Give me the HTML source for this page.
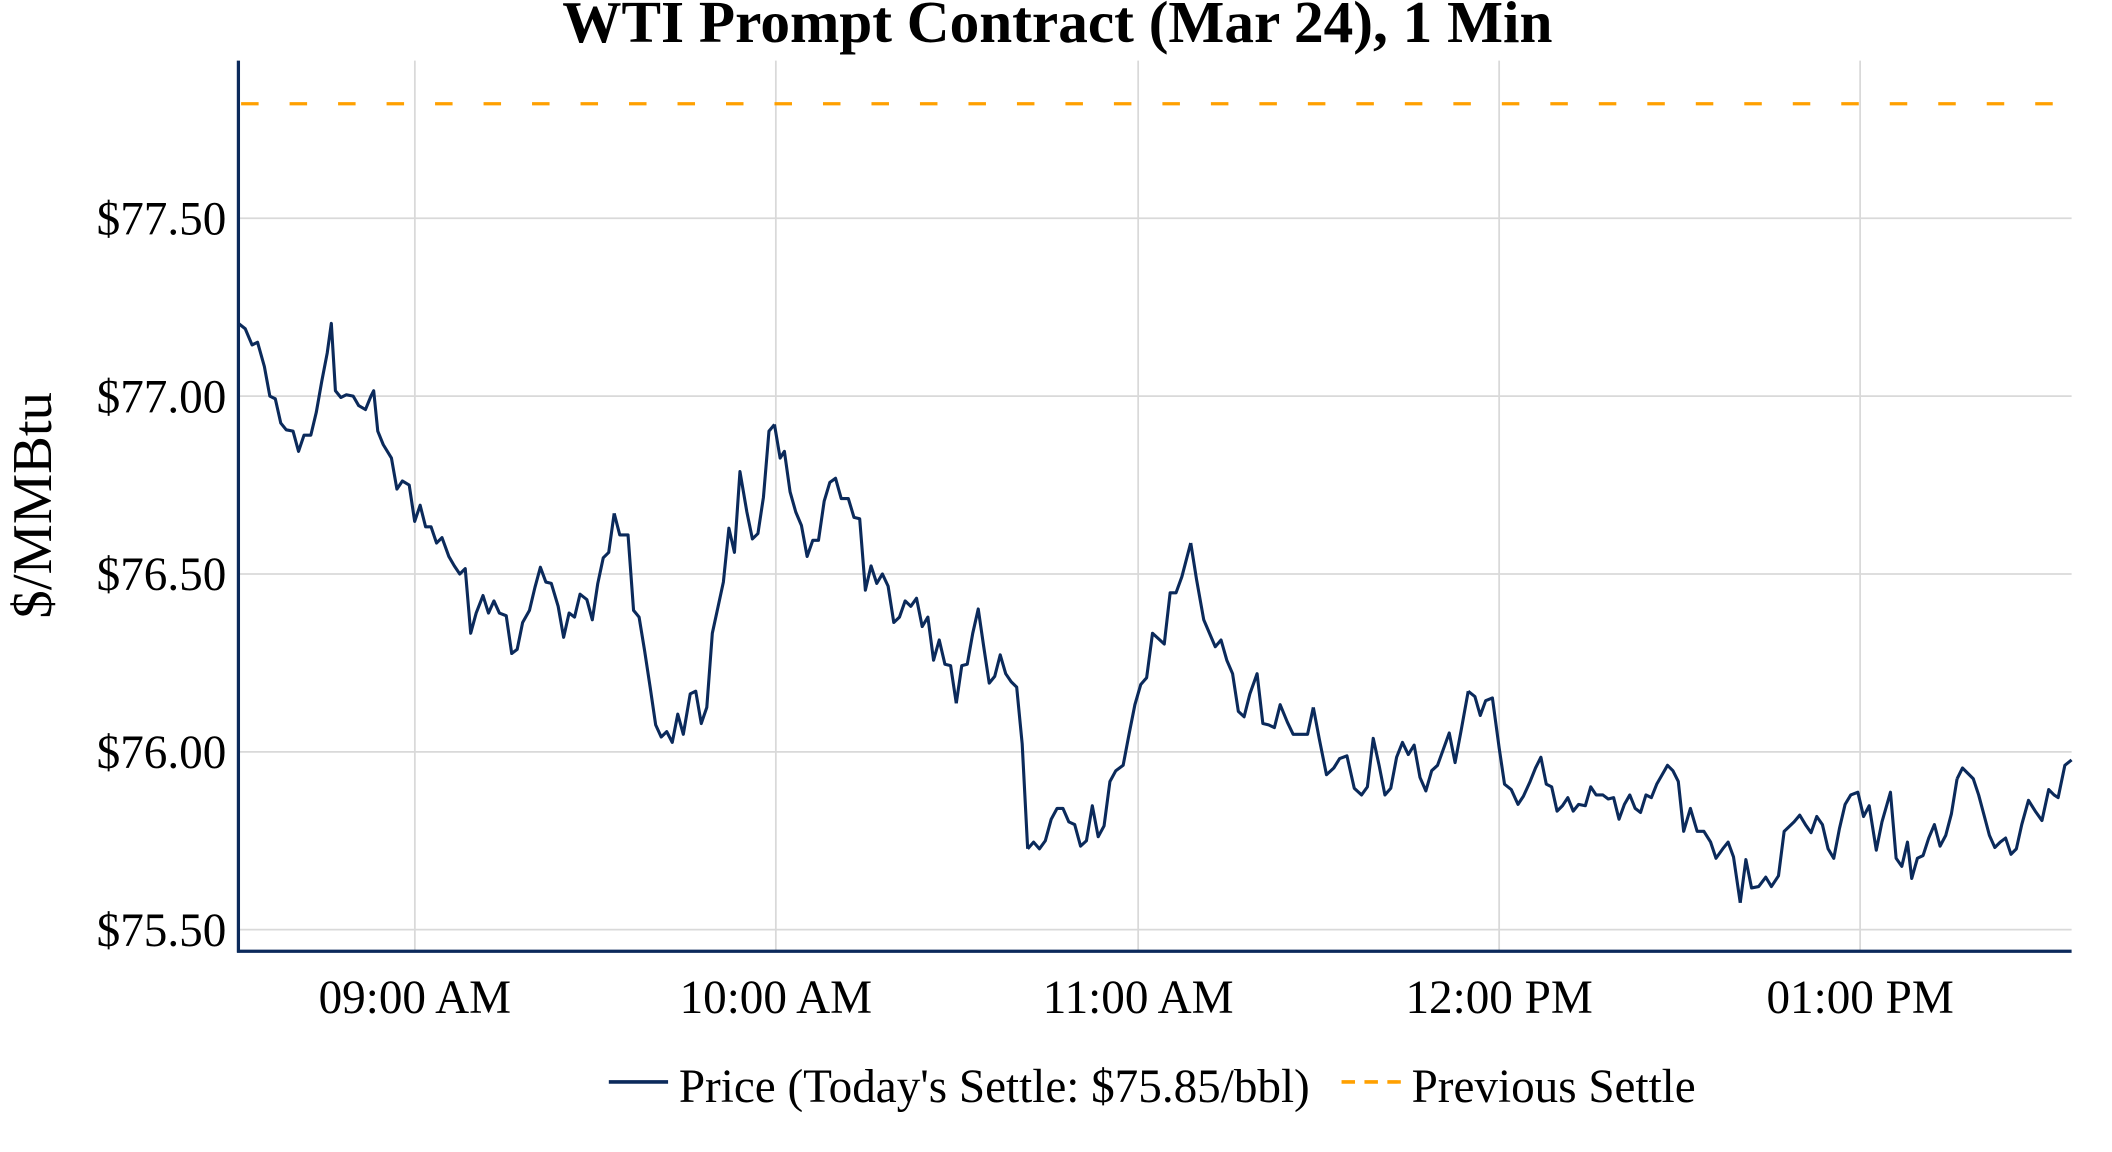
<!DOCTYPE html>
<html><head><meta charset="utf-8"><style>
html,body{margin:0;padding:0;background:#fff;}
svg{display:block;font-family:"Liberation Serif",serif;}
.p polyline{fill:none;stroke:#0b2a5b;stroke-width:3.1;stroke-linejoin:round;vector-effect:non-scaling-stroke;}
</style></head><body>
<svg width="2112" height="1152" viewBox="0 0 1568 855" preserveAspectRatio="none" xmlns="http://www.w3.org/2000/svg">
<rect width="1568" height="855" fill="#fff"/>
<text x="785" y="31" text-anchor="middle" font-size="44" font-weight="bold" fill="#000">WTI Prompt Contract (Mar 24), 1 Min</text>
<g stroke="#d9d9d9" stroke-width="1.3">
<line x1="177" x2="1538" y1="162" y2="162"/>
<line x1="177" x2="1538" y1="294" y2="294"/>
<line x1="177" x2="1538" y1="426" y2="426"/>
<line x1="177" x2="1538" y1="558" y2="558"/>
<line x1="177" x2="1538" y1="690" y2="690"/>
<line x1="308" x2="308" y1="45" y2="706"/>
<line x1="576" x2="576" y1="45" y2="706"/>
<line x1="845" x2="845" y1="45" y2="706"/>
<line x1="1113" x2="1113" y1="45" y2="706"/>
<line x1="1381" x2="1381" y1="45" y2="706"/>
</g>
<line x1="179" x2="1538" y1="77" y2="77" stroke="#ffa000" stroke-width="2.4" stroke-dasharray="13,23"/>
<g class="p">
<polyline transform="matrix(1.0145,0,0,1,-2.57,0)" points="177,240 182,244 187,256 191,254 196,272 200,294 204,296 208,314 212,319 217,320 221,335 225,323 230,323 234,306 238,283 242,262 245,240 248,290 252,295 256,293 261,294 265,301 270,304 274,294 276,290 279,320 283,330 289,340 293,363 297,357 302,360 306,387 310,375 314,391 318,391 322,403 326,399 331,413 335,420 339,426 343,422 347,470 351,455 356,442 360,455 364,446 368,455 373,457 377,485 381,482 385,462 390,453 394,436 398,421 402,432 406,433 411,450 415,473 419,455 423,458 427,441 432,445 436,460 440,433 444,414 448,410 452,381"/>
<polyline transform="matrix(1.0259,0,0,1,-7.7,0)" points="452,381 456,397 462,397 466,453 470,458 474,483 478,510 482,538 486,547 490,543 494,551 498,530 502,545 507,515 511,513 515,537 519,525 523,470 527,451 531,432 535,392 539,410 543,350 548,380 552,400 556,396 560,369 564,320 568,315"/>
<polyline transform="matrix(1.0547,0,0,1,-24.1,0)" points="568,315 572,340 575,335 579,365 583,380 587,390 591,413 595,401 599,401 603,372 607,358 611,355 615,370 620,370 624,384 628,385 632,438 636,420 640,433 644,426 648,435 652,462 656,458 660,446 664,450 668,444 672,465 676,458 680,490 684,475 688,493 692,494 696,522"/>
<polyline transform="matrix(1.0192,0,0,1,0.6,0)" points="696,522 700,494 704,493 708,470 712,452 716,480 720,507 724,502 728,486 732,500 736,506 740,510 744,552 748,630"/>
<polyline transform="matrix(1.0901,0,0,1,-52.4,0)" points="748,630 752,625 756,630 760,624 764,608 768,600 772,600 776,610 780,612 784,628 788,624 792,598 796,621 800,613 804,580 808,572 813,568 817,545 821,523 825,508 829,503 833,470 837,474 841,478 845,440 849,440 853,428 859,403"/>
<polyline transform="matrix(1.0706,0,0,1,-35.6,0)" points="859,403 863,430 868,460 872,470 876,480 880,475 884,490 888,500 892,528 896,532 900,515 905,500 909,537 913,538 917,540 921,523 926,536 930,545 935,545 940,545 944,525"/>
<polyline transform="matrix(1.0849,0,0,1,-49.1,0)" points="944,525 948,548 953,575 958,570 962,563 967,561 972,585 977,590 981,584 985,548 989,568 993,590 997,585 1001,562 1005,551 1009,560 1013,553 1017,577 1021,587 1025,572 1029,568 1033,556 1037,544 1041,566 1045,543 1050,513"/>
<polyline transform="matrix(1,0,0,1,40,0)" points="1050,513 1055,517 1059,531 1063,520 1068,518 1073,555 1077,582 1082,586 1087,597 1091,591 1096,580 1100,570 1104,562 1108,582 1112,584 1116,602 1120,598 1124,592 1128,602 1132,597 1137,598 1141,584 1145,590 1150,590 1154,593 1158,592 1162,608 1166,597 1170,590 1174,600 1178,603 1182,590 1186,592 1190,582 1194,575 1198,568 1202,572 1206,580 1210,617 1215,600 1220,617 1225,617 1230,625 1234,637 1239,630 1243,625 1247,636 1252,670"/>
<polyline transform="matrix(1.0523,0,0,1,-25.5,0)" points="1252,670 1256,638 1260,659 1265,658 1270,651 1274,658 1279,650 1283,617 1290,610 1294,605 1298,612 1302,618 1306,606 1310,612 1314,630 1318,637 1322,615 1326,597 1330,590 1335,588 1339,606 1343,598 1348,631 1352,610 1358,588 1362,637 1366,643 1370,625 1373,652 1377,637 1381,635 1385,622 1389,612 1393,628 1397,620 1401,604 1405,578"/>
<polyline points="1453,578 1457,570 1461,574 1465,578 1469,590 1473,605 1477,620 1481,629 1485,625 1489,622 1493,634 1497,630 1501,612 1506,594 1511,602 1516,609 1521,586 1525,590 1528,592 1533,568 1538,564"/>
</g>
<line x1="177" x2="177" y1="45" y2="707" stroke="#0b2a5b" stroke-width="2.4"/>
<line x1="176" x2="1538" y1="706" y2="706" stroke="#0b2a5b" stroke-width="2.4"/>
<g font-size="35" fill="#000" text-anchor="end">
<text x="168" y="174">$77.50</text>
<text x="168" y="306">$77.00</text>
<text x="168" y="438">$76.50</text>
<text x="168" y="570">$76.00</text>
<text x="168" y="702">$75.50</text>
</g>
<g font-size="35" fill="#000" text-anchor="middle">
<text x="308" y="752">09:00 AM</text>
<text x="576" y="752">10:00 AM</text>
<text x="845" y="752">11:00 AM</text>
<text x="1113" y="752">12:00 PM</text>
<text x="1381" y="752">01:00 PM</text>
</g>
<text transform="translate(38,375) rotate(-90)" text-anchor="middle" font-size="42" fill="#000">$/MMBtu</text>
<line x1="452" x2="496" y1="803" y2="803" stroke="#0b2a5b" stroke-width="2.6"/>
<text x="504" y="818" font-size="35" fill="#000">Price (Today's Settle: $75.85/bbl)</text>
<line x1="996" x2="1040" y1="803" y2="803" stroke="#ffa000" stroke-width="2.6" stroke-dasharray="10,7"/>
<text x="1048" y="818" font-size="35" fill="#000">Previous Settle</text>
</svg>
</body></html>
